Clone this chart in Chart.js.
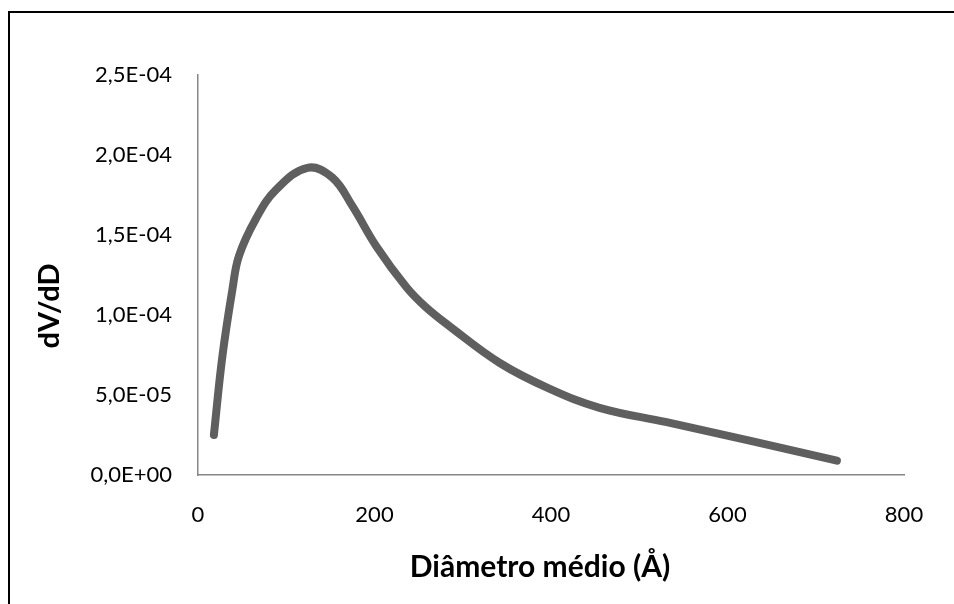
<!DOCTYPE html>
<html>
<head>
<meta charset="utf-8">
<script src="https://cdn.jsdelivr.net/npm/chart.js@4"></script>
<style>
  html, body { margin:0; padding:0; background:#fff; }
  body { width:954px; height:604px; position:relative; overflow:hidden; }
  #frame { position:absolute; left:8px; top:11px; width:1000px; height:700px; border:2px solid #000; box-sizing:border-box; }
  #wrap { position:absolute; left:0; top:0; width:954px; height:604px; }
</style>
</head>
<body>
<div id="frame"></div>
<div id="wrap"><canvas id="c" width="954" height="604"></canvas></div>
<script>
// pore size distribution
const diam = [18, 27.6, 39, 46.5, 65.5, 88, 124, 152, 175, 202, 236, 258, 285, 342, 398, 455, 531, 625, 724];
const dvdd = [2.5e-5, 7.4e-5, 1.16e-4, 1.37e-4, 1.60e-4, 1.78e-4, 1.92e-4, 1.86e-4, 1.68e-4, 1.43e-4, 1.175e-4, 1.05e-4, 9.3e-5, 7.0e-5, 5.4e-5, 4.2e-5, 3.3e-5, 2.15e-5, 9.0e-6];
const xTicks = [0, 200, 400, 600, 800];
const yTicks = [0, 5e-5, 1e-4, 1.5e-4, 2e-4, 2.5e-4];
const xTitle = 'Diâmetro médio (Å)';
const yTitle = 'dV/dD';

const tickFont = {family:'Lato', size:22};

function sciLabel(v){
  let [m, e] = Number(v).toExponential(1).split('e');
  let n = parseInt(e, 10);
  return m.replace('.', ',') + 'E' + (n < 0 ? '-' : '+') + String(Math.abs(n)).padStart(2, '0');
}

// axis titles drawn at fixed spots, like the original
const axisTitles = {
  id:'axisTitles',
  afterDraw(chart){
    const ctx = chart.ctx;
    ctx.save();
    ctx.fillStyle = '#000';
    ctx.textAlign = 'center';
    ctx.font = 'bold 30px Lato';
    ctx.textBaseline = 'alphabetic';
    ctx.fillText(xTitle, 540, 577);
    ctx.font = 'bold 29px Lato';
    ctx.textBaseline = 'middle';
    ctx.translate(50, 306);
    ctx.rotate(-Math.PI/2);
    ctx.fillText(yTitle, 0, 0);
    ctx.restore();
  }
};

const ctx = document.getElementById('c').getContext('2d');
new Chart(ctx, {
  type:'scatter',
  data:{ datasets:[{
    data: diam.map((x,i)=>({x, y:dvdd[i]})),
    showLine:true, tension:0.4,
    borderColor:'#5f5f5f', borderWidth:8, borderCapStyle:'round', borderJoinStyle:'round',
    pointRadius:0, pointHoverRadius:0
  }]},
  options:{
    responsive:false, animation:false, events:[],
    layout:{ padding:{left:20, top:75, right:50, bottom:10} },
    plugins:{ legend:{display:false}, tooltip:{enabled:false} },
    scales:{
      x:{
        type:'linear', min:0, max:800,
        afterBuildTicks: s => { s.ticks = xTicks.map(v=>({value:v})); },
        afterFit: s => { s.height = 604 - 10 - 475; },
        grid:{display:false, drawTicks:false},
        border:{display:true, color:'#868686', width:1.5},
        ticks:{ color:'#000', font:tickFont, padding:27, maxRotation:0 }
      },
      y:{
        type:'linear', min:0, max:2.5e-4,
        afterBuildTicks: s => { s.ticks = yTicks.map(v=>({value:v})); },
        afterFit: s => { s.width = 198 - 20; },
        grid:{display:false, drawTicks:false},
        border:{display:true, color:'#868686', width:1.5},
        ticks:{ color:'#000', font:tickFont, padding:26, callback: v => sciLabel(v) }
      }
    }
  },
  plugins:[axisTitles]
});
</script>
</body>
</html>
